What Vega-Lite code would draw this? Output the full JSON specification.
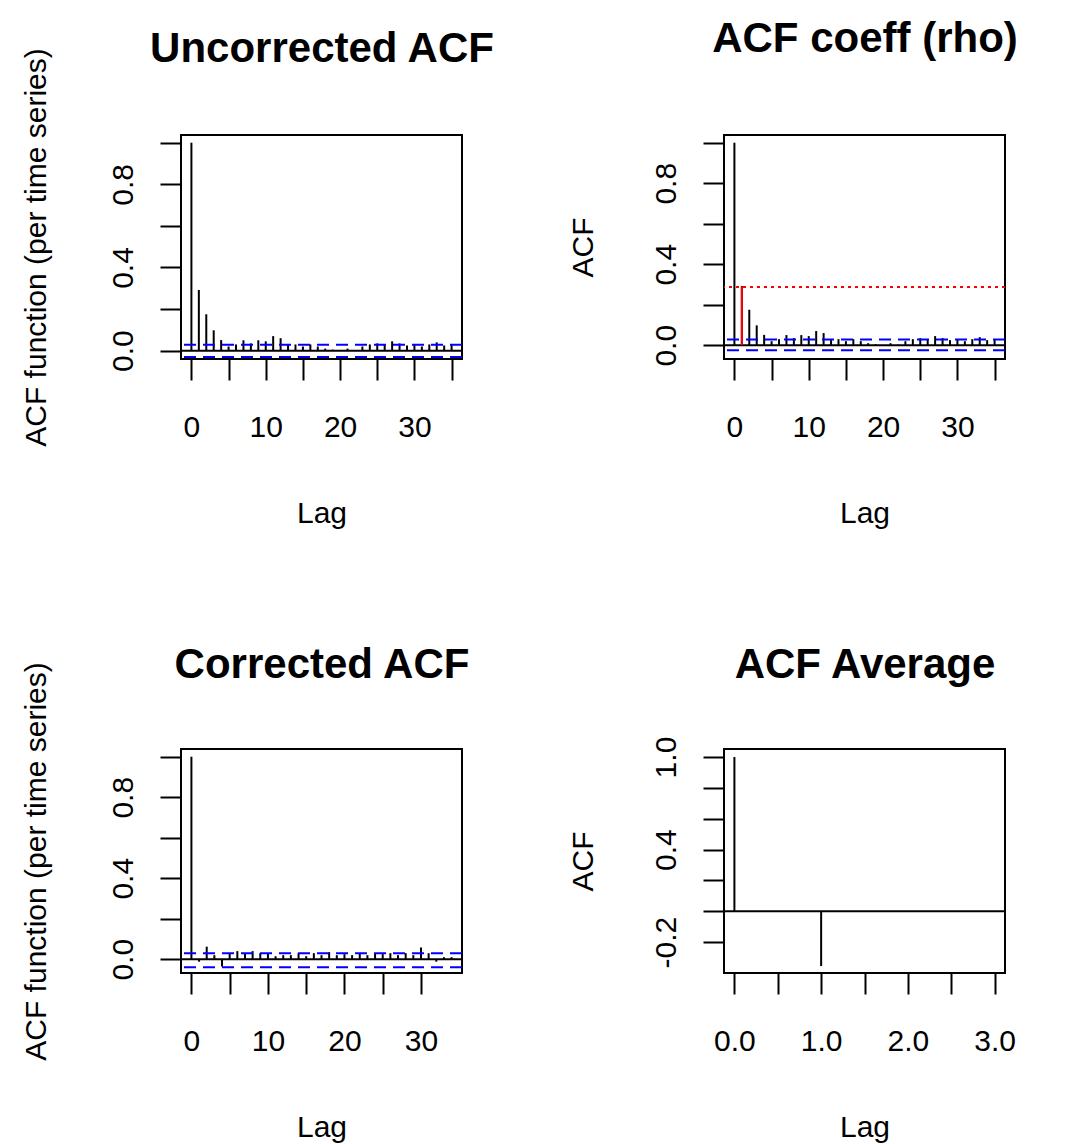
{
  "$schema": "https://vega.github.io/schema/vega-lite/v6.json",
  "autosize": {"type": "none"},
  "padding": {"left": 181, "top": 135, "right": 902, "bottom": 1009},
  "background": "white",
  "bounds": "flush",
  "columns": 2,
  "spacing": {"row": 390, "column": 262},
  "datasets": {
    "acf1": [
      {"lag": 0, "acf": 1.0}, {"lag": 1, "acf": 0.292}, {"lag": 2, "acf": 0.175}, {"lag": 3, "acf": 0.098},
      {"lag": 4, "acf": 0.051}, {"lag": 5, "acf": 0.02}, {"lag": 6, "acf": 0.03}, {"lag": 7, "acf": 0.05},
      {"lag": 8, "acf": 0.035}, {"lag": 9, "acf": 0.05}, {"lag": 10, "acf": 0.045}, {"lag": 11, "acf": 0.07},
      {"lag": 12, "acf": 0.06}, {"lag": 13, "acf": 0.03}, {"lag": 14, "acf": 0.03}, {"lag": 15, "acf": 0.02},
      {"lag": 16, "acf": 0.03}, {"lag": 17, "acf": 0.02}, {"lag": 18, "acf": 0.01}, {"lag": 19, "acf": 0.005},
      {"lag": 20, "acf": 0.0}, {"lag": 21, "acf": 0.01}, {"lag": 22, "acf": 0.003}, {"lag": 23, "acf": 0.02},
      {"lag": 24, "acf": 0.03}, {"lag": 25, "acf": 0.035}, {"lag": 26, "acf": 0.03}, {"lag": 27, "acf": 0.045},
      {"lag": 28, "acf": 0.035}, {"lag": 29, "acf": 0.025}, {"lag": 30, "acf": 0.03}, {"lag": 31, "acf": 0.02},
      {"lag": 32, "acf": 0.03}, {"lag": 33, "acf": 0.04}, {"lag": 34, "acf": 0.025}, {"lag": 35, "acf": 0.03}
    ],
    "acf3": [
      {"lag": 0, "acf": 1.0}, {"lag": 1, "acf": -0.012}, {"lag": 2, "acf": 0.062}, {"lag": 3, "acf": 0.02},
      {"lag": 4, "acf": -0.036}, {"lag": 5, "acf": 0.03}, {"lag": 6, "acf": 0.04}, {"lag": 7, "acf": 0.03},
      {"lag": 8, "acf": 0.04}, {"lag": 9, "acf": 0.03}, {"lag": 10, "acf": 0.03}, {"lag": 11, "acf": 0.015},
      {"lag": 12, "acf": 0.02}, {"lag": 13, "acf": 0.02}, {"lag": 14, "acf": 0.03}, {"lag": 15, "acf": 0.015},
      {"lag": 16, "acf": 0.03}, {"lag": 17, "acf": 0.02}, {"lag": 18, "acf": 0.035}, {"lag": 19, "acf": 0.02},
      {"lag": 20, "acf": 0.025}, {"lag": 21, "acf": 0.02}, {"lag": 22, "acf": 0.03}, {"lag": 23, "acf": 0.02},
      {"lag": 24, "acf": 0.03}, {"lag": 25, "acf": 0.025}, {"lag": 26, "acf": 0.03}, {"lag": 27, "acf": 0.02},
      {"lag": 28, "acf": 0.03}, {"lag": 29, "acf": 0.02}, {"lag": 30, "acf": 0.058}, {"lag": 31, "acf": 0.03},
      {"lag": 32, "acf": -0.012}, {"lag": 33, "acf": 0.01}, {"lag": 34, "acf": 0.01}
    ],
    "acf4": [
      {"lag": 0, "acf": 1.0}, {"lag": 1, "acf": -0.355}
    ],
    "ci1": [{"ci": 0.028}, {"ci": -0.03}],
    "ci2": [{"ci": 0.028}, {"ci": -0.025}],
    "ci3": [{"ci": 0.03}, {"ci": -0.04}],
    "rho": [{"lag": 1, "rho": 0.288}],
    "zero": [{"z": 0}]
  },
  "concat": [
    {
      "width": 281, "height": 224,
      "resolve": {"axis": {"x": "independent"}},
      "layer": [
        {
          "data": {"name": "acf1"},
          "mark": {"type": "rule", "color": "black", "strokeWidth": 2},
          "encoding": {
            "x": {"field": "lag", "type": "quantitative",
                  "scale": {"domain": [-1.4, 36.4], "nice": false, "zero": false},
                  "axis": {"values": [0, 5, 10, 15, 20, 25, 30, 35], "title": "Lag",
                           "labelExpr": "datum.value % 10 == 0 ? format(datum.value, 'd') : ''"}},
            "y": {"field": "acf", "type": "quantitative",
                  "scale": {"domain": [-0.04, 1.037], "nice": false, "zero": false},
                  "axis": {"values": [0, 0.2, 0.4, 0.6, 0.8, 1.0], "title": "ACF function (per time series)", "titleX": -136, "titleY": 112,
                           "labelExpr": "abs(datum.value) < 0.01 ? '0.0' : abs(datum.value - 0.4) < 0.01 ? '0.4' : abs(datum.value - 0.8) < 0.01 ? '0.8' : ''"}},
            "y2": {"datum": 0}
          }
        },
        {
          "data": {"name": "acf1"},
          "mark": {"type": "rule", "opacity": 0},
          "encoding": {
            "x": {"field": "lag", "type": "quantitative",
                  "axis": {"orient": "top", "title": "Uncorrected ACF", "labels": false, "ticks": false, "titleY": -74,
                           "titleFontSize": 42, "titleFontWeight": "bold"}}
          }
        },
        {
          "data": {"name": "zero"},
          "mark": {"type": "rule", "color": "black", "strokeWidth": 2},
          "encoding": {"y": {"field": "z", "type": "quantitative"}}
        },
        {
          "data": {"name": "ci1"},
          "mark": {"type": "rule", "color": "#0000FF", "strokeWidth": 2, "strokeDash": [12, 7]},
          "encoding": {"y": {"field": "ci", "type": "quantitative"}}
        }
      ]
    },
    {
      "width": 281, "height": 224,
      "resolve": {"axis": {"x": "independent"}},
      "layer": [
        {
          "data": {"name": "acf1"},
          "mark": {"type": "rule", "color": "black", "strokeWidth": 2},
          "encoding": {
            "x": {"field": "lag", "type": "quantitative",
                  "scale": {"domain": [-1.4, 36.4], "nice": false, "zero": false},
                  "axis": {"values": [0, 5, 10, 15, 20, 25, 30, 35], "title": "Lag",
                           "labelExpr": "datum.value % 10 == 0 ? format(datum.value, 'd') : ''"}},
            "y": {"field": "acf", "type": "quantitative",
                  "scale": {"domain": [-0.068, 1.038], "nice": false, "zero": false},
                  "axis": {"values": [0, 0.2, 0.4, 0.6, 0.8, 1.0], "title": "ACF", "titleX": -132, "titleY": 112,
                           "labelExpr": "abs(datum.value) < 0.01 ? '0.0' : abs(datum.value - 0.4) < 0.01 ? '0.4' : abs(datum.value - 0.8) < 0.01 ? '0.8' : ''"}},
            "y2": {"datum": 0}
          }
        },
        {
          "data": {"name": "acf1"},
          "mark": {"type": "rule", "opacity": 0},
          "encoding": {
            "x": {"field": "lag", "type": "quantitative",
                  "axis": {"orient": "top", "title": "ACF coeff (rho)", "labels": false, "ticks": false, "titleY": -84,
                           "titleFontSize": 42, "titleFontWeight": "bold"}}
          }
        },
        {
          "data": {"name": "zero"},
          "mark": {"type": "rule", "color": "black", "strokeWidth": 2},
          "encoding": {"y": {"field": "z", "type": "quantitative"}}
        },
        {
          "data": {"name": "ci2"},
          "mark": {"type": "rule", "color": "#0000FF", "strokeWidth": 2, "strokeDash": [12, 7]},
          "encoding": {"y": {"field": "ci", "type": "quantitative"}}
        },
        {
          "data": {"name": "rho"},
          "mark": {"type": "rule", "color": "#FF0000", "strokeWidth": 2, "strokeDash": [3, 4]},
          "encoding": {"y": {"field": "rho", "type": "quantitative"}}
        },
        {
          "data": {"name": "rho"},
          "mark": {"type": "rule", "color": "#FF0000", "strokeWidth": 2},
          "encoding": {
            "x": {"field": "lag", "type": "quantitative", "axis": null},
            "y": {"field": "rho", "type": "quantitative"},
            "y2": {"datum": 0}
          }
        }
      ]
    },
    {
      "width": 281, "height": 224,
      "resolve": {"axis": {"x": "independent"}},
      "layer": [
        {
          "data": {"name": "acf3"},
          "mark": {"type": "rule", "color": "black", "strokeWidth": 2},
          "encoding": {
            "x": {"field": "lag", "type": "quantitative",
                  "scale": {"domain": [-1.36, 35.36], "nice": false, "zero": false},
                  "axis": {"values": [0, 5, 10, 15, 20, 25, 30], "title": "Lag",
                           "labelExpr": "datum.value % 10 == 0 ? format(datum.value, 'd') : ''"}},
            "y": {"field": "acf", "type": "quantitative",
                  "scale": {"domain": [-0.068, 1.038], "nice": false, "zero": false},
                  "axis": {"values": [0, 0.2, 0.4, 0.6, 0.8, 1.0], "title": "ACF function (per time series)", "titleX": -136, "titleY": 112,
                           "labelExpr": "abs(datum.value) < 0.01 ? '0.0' : abs(datum.value - 0.4) < 0.01 ? '0.4' : abs(datum.value - 0.8) < 0.01 ? '0.8' : ''"}},
            "y2": {"datum": 0}
          }
        },
        {
          "data": {"name": "acf3"},
          "mark": {"type": "rule", "opacity": 0},
          "encoding": {
            "x": {"field": "lag", "type": "quantitative",
                  "axis": {"orient": "top", "title": "Corrected ACF", "labels": false, "ticks": false, "titleY": -72,
                           "titleFontSize": 42, "titleFontWeight": "bold"}}
          }
        },
        {
          "data": {"name": "zero"},
          "mark": {"type": "rule", "color": "black", "strokeWidth": 2},
          "encoding": {"y": {"field": "z", "type": "quantitative"}}
        },
        {
          "data": {"name": "ci3"},
          "mark": {"type": "rule", "color": "#0000FF", "strokeWidth": 2, "strokeDash": [12, 7]},
          "encoding": {"y": {"field": "ci", "type": "quantitative"}}
        }
      ]
    },
    {
      "width": 281, "height": 224,
      "resolve": {"axis": {"x": "independent"}},
      "layer": [
        {
          "data": {"name": "acf4"},
          "mark": {"type": "rule", "color": "black", "strokeWidth": 2},
          "encoding": {
            "x": {"field": "lag", "type": "quantitative",
                  "scale": {"domain": [-0.12, 3.12], "nice": false, "zero": false},
                  "axis": {"values": [0, 0.5, 1, 1.5, 2, 2.5, 3], "title": "Lag",
                           "labelExpr": "datum.value % 1 == 0 ? format(datum.value, '.1f') : ''"}},
            "y": {"field": "acf", "type": "quantitative",
                  "scale": {"domain": [-0.4, 1.052], "nice": false, "zero": false},
                  "axis": {"values": [-0.2, 0, 0.2, 0.4, 0.6, 0.8, 1.0], "title": "ACF", "titleX": -132, "titleY": 112,
                           "labelExpr": "abs(datum.value - 1) < 0.01 ? '1.0' : abs(datum.value - 0.4) < 0.01 ? '0.4' : abs(datum.value + 0.2) < 0.01 ? '-0.2' : ''"}},
            "y2": {"datum": 0}
          }
        },
        {
          "data": {"name": "acf4"},
          "mark": {"type": "rule", "opacity": 0},
          "encoding": {
            "x": {"field": "lag", "type": "quantitative",
                  "axis": {"orient": "top", "title": "ACF Average", "labels": false, "ticks": false, "titleY": -72,
                           "titleFontSize": 42, "titleFontWeight": "bold"}}
          }
        },
        {
          "data": {"name": "zero"},
          "mark": {"type": "rule", "color": "black", "strokeWidth": 2},
          "encoding": {"y": {"field": "z", "type": "quantitative"}}
        }
      ]
    }
  ],
  "config": {
    "font": "Liberation Sans",
    "view": {"stroke": "black", "strokeWidth": 2},
    "axis": {
      "domain": false, "grid": false, "ticks": true, "tickCount": 100,
      "tickColor": "black", "tickSize": 21, "tickWidth": 2,
      "labelFont": "Liberation Sans", "labelFontSize": 30, "labelColor": "black",
      "labelOverlap": false, "labelFlush": false, "labelBound": false,
      "titleFont": "Liberation Sans", "titleFontSize": 30, "titleFontWeight": "normal", "titleColor": "black"
    },
    "axisX": {"labelAngle": 0, "labelPadding": 56, "labelBaseline": "alphabetic", "labelAlign": "center",
              "titleBaseline": "alphabetic", "titleY": 163.5},
    "axisY": {"labelAngle": -90, "labelAlign": "center", "labelBaseline": "alphabetic", "labelPadding": 28,
              "titleAngle": -90, "titleBaseline": "alphabetic", "titleAlign": "center"}
  }
}
